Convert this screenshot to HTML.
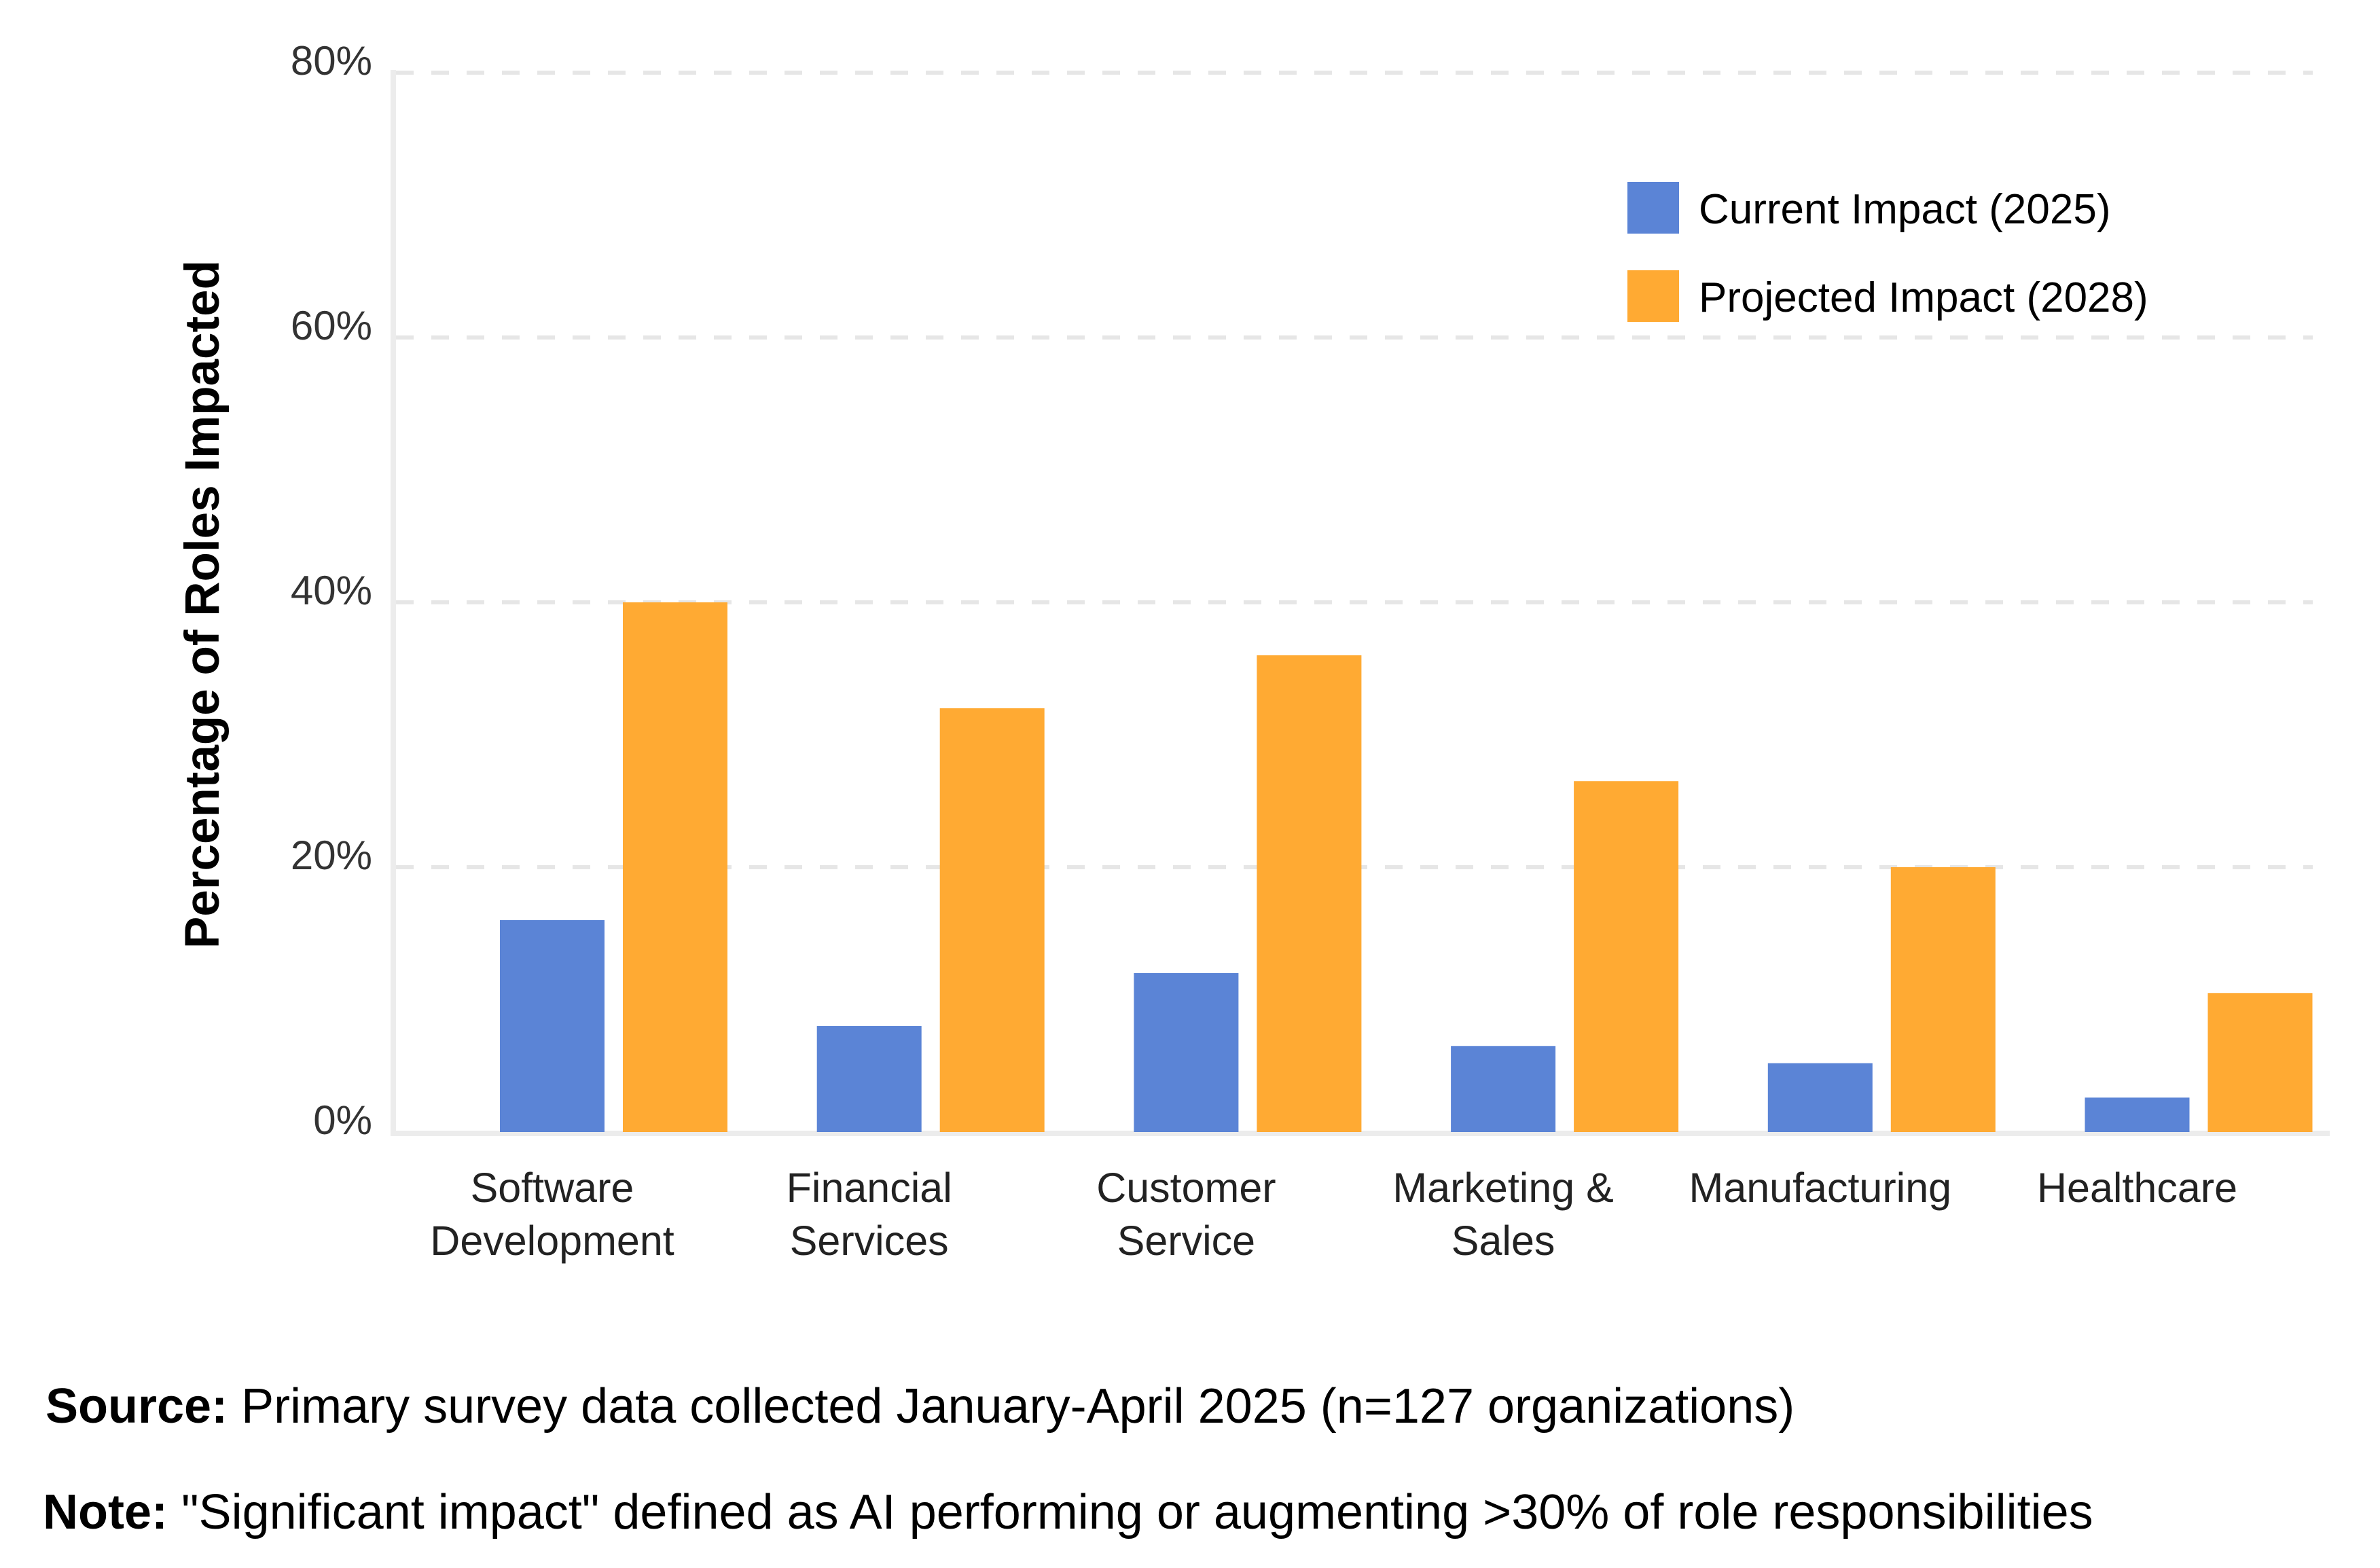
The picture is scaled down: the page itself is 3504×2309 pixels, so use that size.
<!DOCTYPE html>
<html><head><meta charset="utf-8"><style>
html,body{margin:0;padding:0;background:#fff;}
svg{display:block;font-family:"Liberation Sans",Arial,sans-serif;}
</style></head><body>
<svg id="chart" width="3504" height="2309" viewBox="0 0 3504 2309" xmlns="http://www.w3.org/2000/svg">
<g id="grid"></g>
<g id="yticks"></g>
<line x1="579" y1="103" x2="579" y2="1671" stroke="#ececec" stroke-width="8"/>
<line x1="575" y1="1669" x2="3430" y2="1669" stroke="#ececec" stroke-width="8"/>
<g id="bars"></g>
<g id="xlabels"></g>
<text transform="translate(322,890) rotate(-90)" text-anchor="middle" font-size="71" font-weight="bold" fill="#000">Percentage of Roles Impacted</text>
<g>
<g>
<rect x="2396" y="268" width="76" height="76" fill="#5b84d6"/>
<text x="2501" y="329" font-size="62" fill="#000">Current Impact (2025)</text></g>
<g>
<rect x="2396" y="398" width="76" height="76" fill="#ffaa33"/>
<text x="2501" y="459" font-size="62" fill="#000">Projected Impact (2028)</text></g>
</g>
<text x="67" y="2095" font-size="72" fill="#000"><tspan font-weight="bold">Source:</tspan> Primary survey data collected January-April 2025 (n=127 organizations)</text>
<text x="63" y="2251" font-size="72" fill="#000"><tspan font-weight="bold">Note:</tspan> "Significant impact" defined as AI performing or augmenting &gt;30% of role responsibilities</text>
</svg>
<script>
const categories = [["Software","Development"],["Financial","Services"],["Customer","Service"],["Marketing &","Sales"],["Manufacturing"],["Healthcare"]];
const current2025 = [16, 8, 12, 6.5, 5.2, 2.6];
const projected2028 = [40, 32, 36, 26.5, 20, 10.5];
const yTicks = [0, 20, 40, 60, 80];
const yTickLabels = ["0%","20%","40%","60%","80%"];

const NS="http://www.w3.org/2000/svg";
const y0=1667, yTop=107, yMax=80;
function yScale(v){return y0-(v/yMax)*(y0-yTop);}
const groupStart=736, groupStep=466.7, barW=154, orangeOffset=181;
function xBlue(i){return groupStart+i*groupStep;}
function mk(tag,attrs,parent){const e=document.createElementNS(NS,tag);for(const k in attrs)e.setAttribute(k,attrs[k]);parent.appendChild(e);return e;}

const grid=document.getElementById('grid'), yt=document.getElementById('yticks');
yTicks.forEach((t,i)=>{
  if(t>0){const l=mk('line',{x1:583,x2:3405,y1:yScale(t),y2:yScale(t),stroke:'#e6e6e6','stroke-width':6,'stroke-dasharray':'26 26'},grid);
  
  }
  const tx=mk('text',{x:548,y:yScale(t)+3,'text-anchor':'end','font-size':60,fill:'#333'},yt);
  tx.textContent=yTickLabels[i];
  
  
});
const bars=document.getElementById('bars'), xl=document.getElementById('xlabels');
categories.forEach((c,i)=>{
  const b=mk('rect',{x:xBlue(i),y:yScale(current2025[i]),width:barW,height:y0-yScale(current2025[i]),fill:'#5b84d6'},bars);
  
  
  const o=mk('rect',{x:xBlue(i)+orangeOffset,y:yScale(projected2028[i]),width:barW,height:y0-yScale(projected2028[i]),fill:'#ffaa33'},bars);
  
  
  const t=mk('text',{x:xBlue(i)+barW/2,y:1770,'text-anchor':'middle','font-size':61,fill:'#222'},xl);
  
  
  c.forEach((line,j)=>{const s=mk('tspan',{x:xBlue(i)+barW/2,dy:j?78:0},t);s.textContent=line;});
});
</script>
</body></html>
